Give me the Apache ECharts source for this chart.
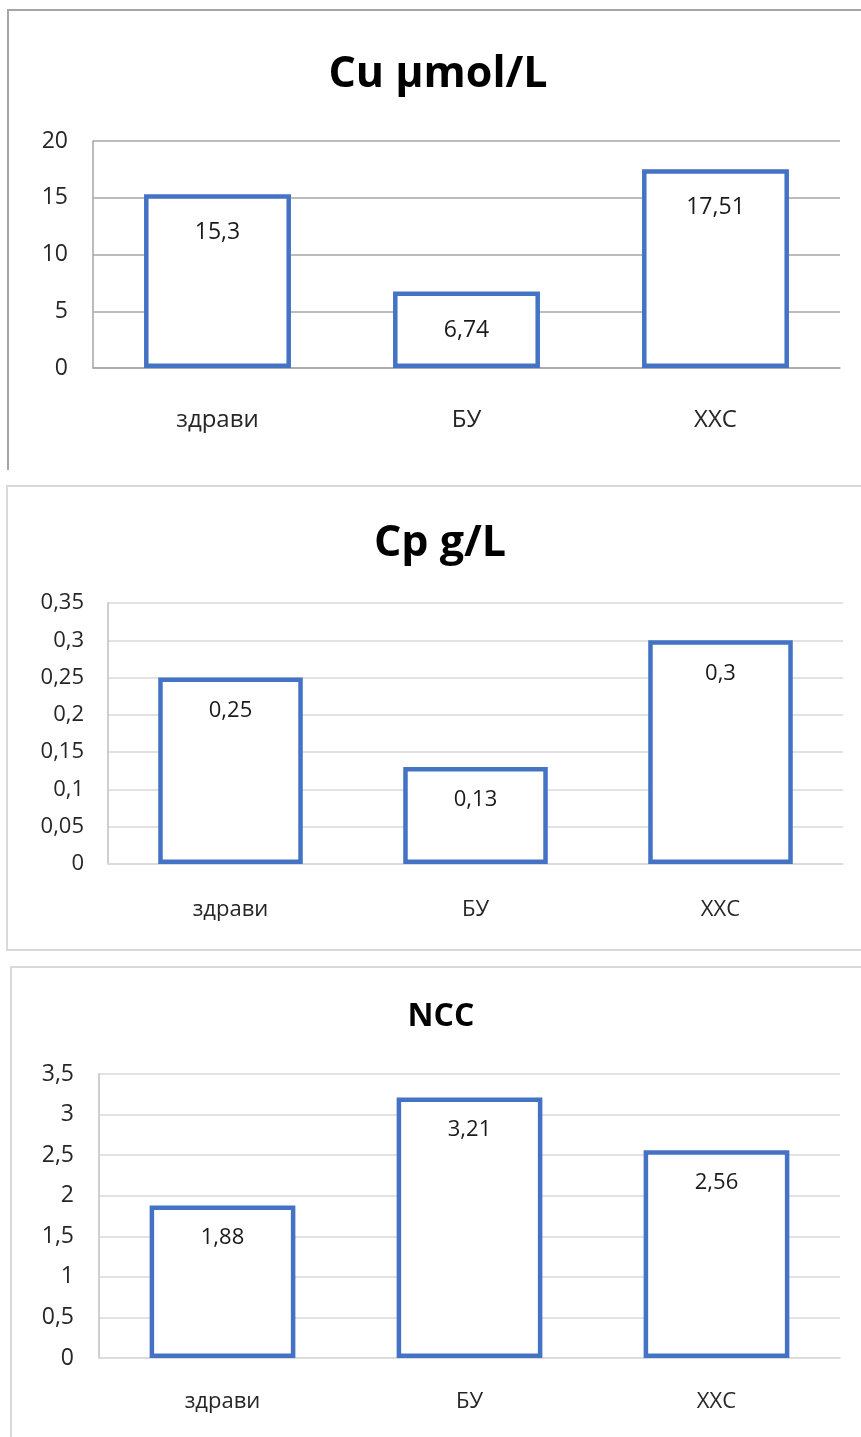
<!DOCTYPE html>
<html>
<head>
<meta charset="utf-8">
<title>Cu, Cp, NCC</title>
<script src="https://cdn.jsdelivr.net/npm/echarts@6/dist/echarts.min.js"></script>
<style>
  html, body { margin: 0; padding: 0; background: #ffffff; }
  #chart { width: 861px; height: 1437px; }
</style>
</head>
<body>
<div id="chart"></div>
<script>
// Groups shown on every panel
const categories = ['здрави', 'БУ', 'ХХС'];

// Panel titles
const titles = ['Cu µmol/L', 'Cp g/L', 'NCC'];

// Mean values per group
const cuValues = [15.3, 6.74, 17.51];
const cpValues = [0.25, 0.13, 0.3];
const nccValues = [1.88, 3.21, 2.56];

// Value axis ranges: [max, step]
const cuAxis = [20, 5];
const cpAxis = [0.35, 0.05];
const nccAxis = [3.5, 0.5];

const FONT = '"Open Sans", "Noto Sans", sans-serif';
const BLUE = '#4472C4';

// Decimal comma, as in the source tables
function fmt(v) {
  return String(parseFloat(Number(v).toFixed(2))).replace('.', ',');
}

// Layout of each panel (pixels)
const panels = [
  { values: cuValues, axis: cuAxis, grid: { left: 93, right: 21, top: 141, height: 227 },
    gridColor: '#a6a6a6', axisColor: '#a6a6a6', tickSize: 23, catSize: 24, valSize: 23,
    labelGap: 25, catMargin: 40, valDist: 27,
    title: { x: 433, y: 48, size: 43 } },
  { values: cpValues, axis: cpAxis, grid: { left: 108, right: 18, top: 603, height: 261 },
    gridColor: '#d9d9d9', axisColor: '#bfbfbf', tickSize: 22, catSize: 22, valSize: 22,
    labelGap: 24, catMargin: 35, valDist: 22,
    title: { x: 435, y: 517, size: 43 } },
  { values: nccValues, axis: nccAxis, grid: { left: 99, right: 21, top: 1074, height: 284 },
    gridColor: '#d9d9d9', axisColor: '#bfbfbf', tickSize: 23, catSize: 22, valSize: 22,
    labelGap: 25, catMargin: 33, valDist: 21,
    title: { x: 436, y: 996, size: 32 } }
];

const option = {
  backgroundColor: '#ffffff',
  animation: false,
  title: panels.map((p, i) => ({
    text: titles[i],
    left: p.title.x,
    top: p.title.y,
    textAlign: 'center',
    textStyle: { fontFamily: FONT, fontWeight: 'bold', fontSize: p.title.size, color: '#000000' }
  })),
  grid: panels.map(p => Object.assign({ containLabel: false }, p.grid)),
  xAxis: panels.map((p, i) => ({
    type: 'category',
    gridIndex: i,
    data: categories,
    axisLine: { show: true, lineStyle: { color: p.gridColor, width: 1.5 } },
    axisTick: { show: false },
    axisLabel: { color: '#262626', fontFamily: FONT, fontSize: p.catSize, margin: p.catMargin }
  })),
  yAxis: panels.map((p, i) => ({
    type: 'value',
    gridIndex: i,
    min: 0,
    max: p.axis[0],
    interval: p.axis[1],
    axisLine: { show: true, lineStyle: { color: p.axisColor, width: 1.5 } },
    axisTick: { show: false },
    splitLine: { show: true, lineStyle: { color: p.gridColor, width: 1.5 } },
    axisLabel: { color: '#262626', fontFamily: FONT, fontSize: p.tickSize, margin: p.labelGap,
                 formatter: v => fmt(v) }
  })),
  series: panels.map((p, i) => ({
    type: 'bar',
    xAxisIndex: i,
    yAxisIndex: i,
    data: p.values,
    barCategoryGap: '41%',
    itemStyle: { color: '#ffffff', borderColor: BLUE, borderWidth: 4.5 },
    label: {
      show: true,
      position: 'insideTop',
      distance: p.valDist,
      color: '#1a1a1a',
      fontFamily: FONT,
      fontSize: p.valSize,
      formatter: d => fmt(d.value)
    }
  })),
  graphic: [
    // frame of the first panel (top and left edges)
    { type: 'polyline', silent: true, shape: { points: [[8, 470], [8, 10], [870, 10]] },
      style: { stroke: '#a6a6a6', lineWidth: 2, fill: null } },
    // frame of the second panel
    { type: 'rect', silent: true, shape: { x: 7, y: 486, width: 870, height: 464 },
      style: { stroke: '#d9d9d9', lineWidth: 2, fill: null } },
    // frame of the third panel
    { type: 'rect', silent: true, shape: { x: 11, y: 967, width: 870, height: 500 },
      style: { stroke: '#d9d9d9', lineWidth: 2, fill: null } }
  ]
};

const chart = echarts.init(document.getElementById('chart'), null, { renderer: 'canvas' });
chart.setOption(option);
</script>
</body>
</html>
